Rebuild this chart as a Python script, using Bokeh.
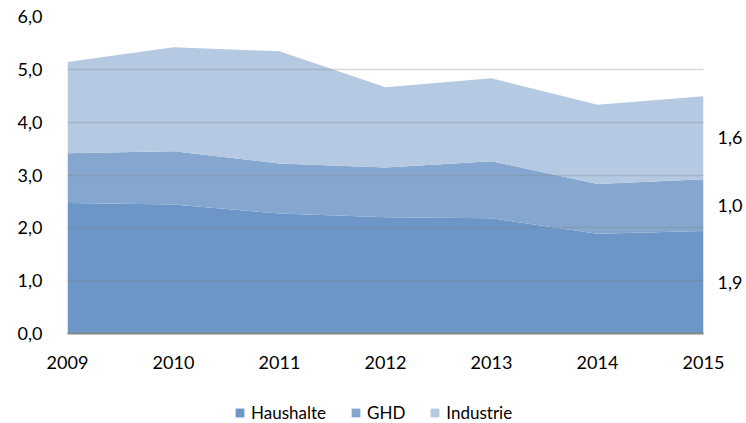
from bokeh.plotting import figure
from bokeh.layouts import column
from bokeh.models import (ColumnDataSource, FixedTicker, CustomJSTickFormatter,
                          Legend, LegendItem, LinearAxis)
from bokeh.embed import file_html
from bokeh.resources import INLINE

years = [2009, 2010, 2011, 2012, 2013, 2014, 2015]
haushalte = [2.47, 2.44, 2.27, 2.20, 2.18, 1.89, 1.94]
ghd = [0.94, 1.01, 0.95, 0.94, 1.08, 0.94, 0.98]
industrie = [1.73, 1.97, 2.12, 1.52, 1.57, 1.50, 1.57]
series = ["Haushalte", "GHD", "Industrie"]
colors = ["#6b96c7", "#85a7cf", "#b5c9e2"]
y_ticks = [0, 1, 2, 3, 4, 5, 6]

FONT = "Lato"
W, H_MAIN, H_LEG = 746, 381, 42

src = ColumnDataSource(dict(year=years, Haushalte=haushalte, GHD=ghd, Industrie=industrie))

p = figure(width=W, height=H_MAIN, x_range=(2009, 2015), y_range=(0, 6),
           output_backend="svg", toolbar_location=None,
           min_border_left=67, min_border_right=43, min_border_top=16, min_border_bottom=48)
p.outline_line_color = None
p.background_fill_color = "white"
p.border_fill_color = "white"

renderers = p.varea_stack(stackers=series, x="year", color=colors, source=src)

# grid above the areas
p.xgrid.grid_line_color = None
p.ygrid.ticker = FixedTicker(ticks=y_ticks)
p.ygrid.grid_line_color = "#808080"
p.ygrid.grid_line_alpha = 0.3
p.ygrid.grid_line_width = 1.5
p.ygrid.level = "overlay"

p.yaxis.ticker = FixedTicker(ticks=y_ticks)
p.yaxis.formatter = CustomJSTickFormatter(code="return tick.toFixed(1).replace('.', ',');")
p.yaxis.axis_line_color = None
p.yaxis.major_tick_line_color = None
p.yaxis.minor_tick_line_color = None
p.yaxis.major_tick_out = 0
p.yaxis.major_label_standoff = 25
p.yaxis.major_label_text_font = FONT
p.yaxis.major_label_text_font_size = "18px"
p.yaxis.major_label_text_color = "black"

p.xaxis.ticker = FixedTicker(ticks=years)
p.xaxis.axis_line_color = "#868686"
p.xaxis.axis_line_width = 2
p.xaxis.major_tick_line_color = None
p.xaxis.minor_tick_line_color = None
p.xaxis.major_tick_out = 0
p.xaxis.major_label_standoff = 22
p.xaxis.major_label_text_font = FONT
p.xaxis.major_label_text_font_size = "18px"
p.xaxis.major_label_text_color = "black"

# end-of-series value labels on the right, placed at each band's middle
last = [haushalte[-1], ghd[-1], industrie[-1]]
mids, base = [], 0.0
for v in last:
    mids.append(base + v / 2)
    base += v
right = LinearAxis(ticker=FixedTicker(ticks=mids),
                   major_label_overrides={m: f"{v:.1f}".replace(".", ",") for m, v in zip(mids, last)},
                   axis_line_color=None, major_tick_line_color=None, minor_tick_line_color=None,
                   major_tick_out=0, major_label_standoff=14,
                   major_label_text_font=FONT, major_label_text_font_size="18px",
                   major_label_text_color="black")
p.add_layout(right, "right")

# legend strip below the chart
pl = figure(width=W, height=H_LEG, x_range=(0, 1), y_range=(0, 1),
            output_backend="svg", toolbar_location=None,
            x_axis_location=None, y_axis_location=None,
            min_border_left=0, min_border_right=0, min_border_top=0, min_border_bottom=0)
pl.outline_line_color = None
pl.xgrid.grid_line_color = None
pl.ygrid.grid_line_color = None
leg_renderers = pl.varea_stack(stackers=series, x="year", color=colors, source=src)

legend = Legend(items=[LegendItem(label=s, renderers=[r]) for s, r in zip(series, leg_renderers)],
                orientation="horizontal", location=(167, 0),
                glyph_width=11, glyph_height=11, label_standoff=6, spacing=24,
                padding=0, margin=0, border_line_color=None, background_fill_alpha=0,
                label_text_font=FONT, label_text_font_size="17px", label_text_color="black",
                label_height=14)
pl.add_layout(legend, "center")

layout = column(p, pl, spacing=0)
open("out.html", "w").write(file_html(layout, INLINE))
